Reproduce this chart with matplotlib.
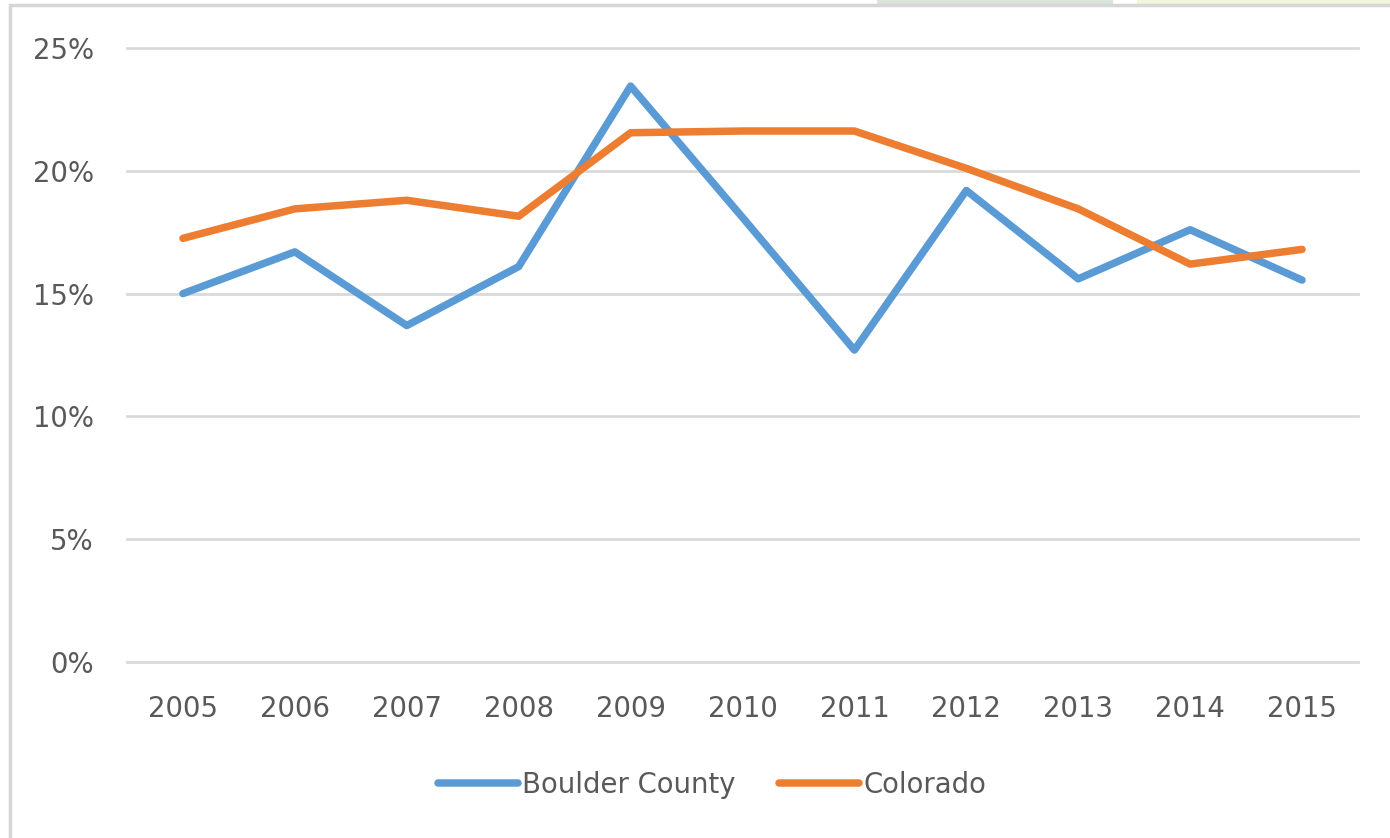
import matplotlib
matplotlib.use("Agg")
import matplotlib.pyplot as plt
from matplotlib.patches import Rectangle
from matplotlib.ticker import FuncFormatter

years = ["2005", "2006", "2007", "2008", "2009", "2010", "2011", "2012", "2013", "2014", "2015"]
boulder = [15.0, 16.7, 13.7, 16.1, 23.45, 18.1, 12.7, 19.2, 15.6, 17.6, 15.55]
colorado = [17.25, 18.45, 18.8, 18.15, 21.55, 21.62, 21.62, 20.1, 18.45, 16.2, 16.8]
yticks = [0, 5, 10, 15, 20, 25]

plt.rcParams['font.family'] = ['DejaVu Sans']

W, H = 1390, 838
fig = plt.figure(figsize=(13.9, 8.38), dpi=100)
ax = fig.add_axes([127/W, 1-662/H, (1358-127)/W, (662-48)/H])

# background decorations at the top edge
fig.patches.append(Rectangle((877/W, 1-5/H), (1113-877)/W, 5/H, transform=fig.transFigure,
                             facecolor='#DAE4DA', edgecolor='none', zorder=0))
fig.patches.append(Rectangle((1137/W, 1-5/H), (W-1137)/W, 5/H, transform=fig.transFigure,
                             facecolor='#EFF6DA', edgecolor='none', zorder=0))
# outer frame
fig.patches.append(Rectangle((10/W, -0.1), 1.2, (1-5/H)+0.1, transform=fig.transFigure,
                             fill=False, edgecolor='#D6D6D6', linewidth=2.5, zorder=1))

x = list(range(len(years)))
ax.plot(x, boulder, color='#5B9BD5', linewidth=5.4, solid_capstyle='round',
        solid_joinstyle='round', label='Boulder County', zorder=3)
ax.plot(x, colorado, color='#ED7D31', linewidth=5.4, solid_capstyle='round',
        solid_joinstyle='round', label='Colorado', zorder=3)

ax.set_xlim(-0.5, len(years) - 0.5)
ax.set_ylim(0, 25)
ax.set_yticks(yticks)
ax.yaxis.set_major_formatter(FuncFormatter(lambda v, p: f"{int(v)}%"))
ax.set_xticks(x)
ax.set_xticklabels(years)
ax.grid(axis='y', color='#D9D9D9', linewidth=2)
for gl in ax.get_ygridlines():
    gl.set_clip_on(False)
ax.set_axisbelow(True)
for s in ax.spines.values():
    s.set_visible(False)
ax.tick_params(axis='both', length=0, colors='#595959', labelsize=19.8)
ax.tick_params(axis='y', pad=24)
ax.tick_params(axis='x', pad=24)

leg = fig.legend(loc='center', bbox_to_anchor=(712/W, 1-785/H), ncol=2, frameon=False,
                 fontsize=19.8, handlelength=2.9, handletextpad=0.15, columnspacing=1.6)
for t in leg.get_texts():
    t.set_color('#595959')
for h in leg.get_lines():
    h.set_solid_capstyle('round')

fig.savefig('out.png', dpi=100, facecolor='white')
